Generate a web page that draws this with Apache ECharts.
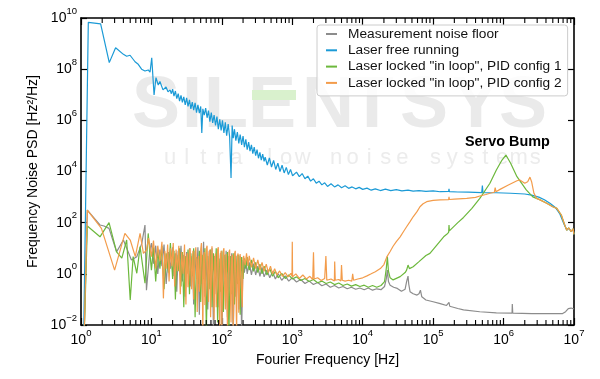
<!DOCTYPE html>
<html><head><meta charset="utf-8">
<script src="https://cdn.jsdelivr.net/npm/echarts@6/dist/echarts.min.js"></script>
<style>html,body{margin:0;padding:0;background:#fff}#c{width:600px;height:379px}</style>
</head><body><div id="c"></div>
<script>
// ---------- data ----------
const seriesNames = ['Measurement noise floor', 'Laser free running', 'Laser locked "in loop", PID config 1', 'Laser locked "in loop", PID config 2'];
const xTickExponents = [0, 1, 2, 3, 4, 5, 6, 7];
const yTickExponents = [-2, 0, 2, 4, 6, 8, 10];
const annotationText = 'Servo Bump';

const noiseFloor = [[1.07,1e-4],[1.23,310],[1.86,81],[2.12,74],[2.5,60],[3.2,7.2],[4.0,21],[5.2,3.5],[6.2,4.7],[7.3,15.5],[8.1,81],[8.5,0.23],[9.5,8.5],
[10,16],[10.7,2.5],[11.5,12.6],[12.3,1],[13.2,8.9],[14.1,2],[15.1,14],[16.2,0.4],[17.4,7.1],[18.6,1.6],[20,11],[20.9,0.8],[21.9,6.3],[22.9,0.2],[24,7.9],[25.1,1.26],[26.3,12.6],[27.5,0.5],[28.8,5.6],[30.2,0.126],[31.6,7.1],[33.1,1],[34.7,10],[36.3,0.32],[38,5],[39.8,0.063],[41.7,7.9],[43.7,0.63],[45.7,11],[47.9,0.025],[50.1,5.6],[52.5,0.4],[55,18],[57.5,0.126],[60.3,6.3],[63.1,0.04],[66.1,7.9],[69.2,0.32],[72.4,10],[75.9,0.008],[79.4,5],[83.2,0.16],[87.1,8.9],[91.2,0.05],[95.5,6.3],[100,0.0025],[105,7.1],[110,0.4],[115,7.9],[120,0.02],[126,5],[132,0.25],[138,6.3],[145,0.003],[151,4.5],[158,0.126],[166,5.6],[174,0.04],[182,5],[191,0.0063],[200,3.5],
[209,1.12],[219,3.2],[229,1],[245,2.8],[263,0.9],[282,2.5],[302,0.9],[324,2],[347,0.8],[372,1.8],[398,0.76],[437,1.4],[479,0.7],[525,1.2],[575,0.63],[631,1],[708,0.56],[794,0.83],[891,0.52],[1000,0.7],[1148,0.48],[1318,0.6],[1514,0.42],[1738,0.52],[1995,0.38],[2291,0.46],[2630,0.34],[3020,0.4],[3467,0.3],[3981,0.35],[4571,0.28],[5248,0.32],[6026,0.26],[6918,0.3],[7943,0.25],[9120,0.28],[1.05e4,0.24],[1.2e4,0.28],[1.38e4,0.23],[1.58e4,0.26],[1.82e4,0.24],[2.04e4,0.32],[2.16e4,0.63],[2.24e4,1.4],[2.32e4,0.5],[2.45e4,0.36],[2.75e4,0.3],[3.1e4,0.27],[3.55e4,0.21],[4.0e4,0.25],[4.2e4,0.5],[4.4e4,0.81],[4.5e4,0.4],[4.7e4,0.2],[5.2e4,0.166],[5.9e4,0.148],[6.3e4,0.166],[6.6e4,0.23],[6.9e4,0.126],[7.9e4,0.095],[1e5,0.081],[1.26e5,0.068],[1.55e5,0.058],[1.64e5,0.055],[1.68e5,0.076],[1.72e5,0.054],[2.24e5,0.044],[2.7e5,0.039],[4.6e5,0.033],[7.9e5,0.030],[1.32e6,0.029],[1.33e6,0.066],[1.35e6,0.029],[2.5e6,0.028],[5.0e6,0.028],[6.9e6,0.028],[7.6e6,0.033],[8.3e6,0.044],[9.1e6,0.046],[1e7,0.042]];

const freeRunning = [[1.07,1e-4],[1.27,6.8e9],[1.9,5.9e9],[2.52,1.8e8],[3.1,6.9e8],[4.0,3.8e8],[4.45,3.2e8],[4.97,3.5e8],[5.85,1.95e8],[6.5,1.55e8],[7.25,1.0e8],[8.1,8.5e7],[9.0,9.3e7],[9.55,7.6e7],[10.1,2.8e8],[10.9,9.8e6],[11.6,4.7e7],[12.5,2.4e7],[13.2,3.3e7],[14.6,1.55e7],[16.1,2.0e7],[17.2,1.3e7],[18.4,1.55e7],[19.2,1.1e7],
[20,1.66e7],[20.9,8.9e6],[21.9,1.4e7],[22.9,7.1e6],[24,1.1e7],[25.1,5.6e6],[26.3,9.5e6],[27.5,5.0e6],[28.8,8.3e6],[30.2,4.0e6],[31.6,7.6e6],[33.1,3.5e6],[34.7,6.3e6],[36.3,2.8e6],[38,5.2e6],[39.8,2.5e6],[41.7,4.8e6],[43.7,2.0e6],[45.7,4.0e6],[47.9,1.9e6],[50.1,3.5e6],[51.9,3.2e5],[53.7,2.8e6],[56.2,1.6e6],[58.9,3.0e6],[61.7,1.26e6],[64.6,2.4e6],[67.6,8.9e5],[70.8,2.0e6],[74.1,7.9e5],[77.6,1.6e6],[81.3,6.3e5],[85.1,1.4e6],[89.1,4.5e5],[93.3,1.1e6],[97.7,4.0e5],[102,1.0e6],[107,3.2e5],[112,8.3e5],[117,2.5e5],[123,7.1e5],[129,2.2e5],[135,5.6e3],[140,6.3e5],[145,2.0e5],[151,4.5e5],[158,1.6e5],[166,3.5e5],[174,1.26e5],[182,2.8e5],[191,1.1e5],[200,2.4e5],[209,8.9e4],[219,1.8e5],[229,7.1e4],[240,1.4e5],[251,6.3e4],[263,1.1e5],[275,5.0e4],[288,8.9e4],[302,4.2e4],[316,7.1e4],[331,3.3e4],[347,5.6e4],[363,2.8e4],[380,4.8e4],
[398,2.5e4],[412,3.6e4],[427,4.0e4],[442,1.8e4],[457,2.0e4],[473,3.4e4],[490,3.0e4],[507,1.5e4],[525,1.66e4],[543,2.7e4],[562,2.4e4],[582,1.2e4],[603,1.3e4],[624,2.1e4],[646,1.9e4],[669,1.0e4],[692,1.1e4],[716,1.75e4],[741,1.6e4],[767,8.8e3],[794,9.5e3],[822,1.45e4],[851,1.3e4],[881,7.6e3],[912,8.3e3],[944,1.2e4],[977,1.1e4],[1010,6.8e3],[1047,7.1e3],
[1148,9.5e3],[1259,6.3e3],[1380,8.3e3],[1514,5.2e3],[1660,6.6e3],[1820,4.2e3],[1995,5.2e3],[2188,3.5e3],[2399,4.2e3],[2630,3.0e3],[2884,3.6e3],[3162,2.6e3],[3548,3.3e3],[3981,2.5e3],[4467,3.0e3],[5012,2.3e3],[5623,2.75e3],[6310,2.2e3],[7079,2.5e3],[7943,2.1e3],[8913,2.4e3],[1e4,2.0e3],[1.15e4,2.24e3],[1.32e4,1.86e3],[1.51e4,2.1e3],[1.78e4,1.8e3],[2.1e4,2.04e3],[2.5e4,1.78e3],[3.0e4,1.95e3],[3.6e4,1.74e3],[4.4e4,1.86e3],[5.2e4,1.7e3],[6.3e4,1.8e3],[7.9e4,1.66e3],[1e5,1.74e3],[1.26e5,1.62e3],[1.66e5,1.66e3],[1.68e5,2.1e3],[1.7e5,1.62e3],[2.24e5,1.58e3],[3.16e5,1.55e3],[4.9e5,1.5e3],[5.0e5,2.8e3],[5.1e5,1.5e3],[7.9e5,1.48e3],[1.26e6,1.41e3],[2.0e6,1.32e3],[2.5e6,1.2e3],[3.16e6,1.0e3],[3.8e6,790],[4.6e6,560],[5.5e6,380],[6.3e6,220],[7.2e6,89],[7.9e6,52],[8.5e6,60],[9.1e6,45],[9.7e6,55],[1e7,35]];

const lockedPid1 = [[1.07,1e-4],[1.23,74],[1.86,28],[2.5,100],[3.2,7.2],[3.8,4.1],[4.45,21],[5.0,0.095],[5.5,4.7],[6.2,1.05],[6.9,11.5],[8.1,0.43],[9.0,38],
[10,1.4],[10.7,11],[11.5,0.5],[12.3,7.9],[13.2,1.6],[14.1,12.6],[15.1,0.25],[16.2,6.3],[17.4,1.1],[18.6,16],[20,0.63],[20.9,7.9],[21.9,0.1],[22.9,5.6],[24,1.26],[25.1,10],[26.3,0.32],[27.5,7.1],[28.8,0.05],[30.2,5],[31.6,1],[33.1,8.9],[34.7,0.16],[36.3,6.3],[38,0.8],[39.8,10],[41.7,0.02],[43.7,4.5],[45.7,0.4],[47.9,7.9],[50.1,0.08],[52.5,5.6],[55,0.63],[57.5,10],[60.3,0.0063],[63.1,5],[66.1,0.25],[69.2,8.9],[72.4,0.05],[75.9,6.3],[79.4,0.5],[83.2,10],[87.1,0.0126],[91.2,4],[95.5,0.2],[100,7.9],[105,0.032],[110,5.6],[115,0.5],[120,7.1],[126,0.004],[132,5],[138,0.16],[145,6.3],[151,0.063],[158,5],[166,0.4],[174,5.6],[182,0.025],[191,4.5],[200,0.63],
[209,4],[219,1.6],[229,4.5],[245,1.4],[263,3.5],[282,1.26],[302,2.8],[324,1.12],[347,2.4],[372,1],[398,2],[437,0.9],[479,1.6],[525,0.8],[575,1.26],[631,0.7],[708,1.05],[794,0.66],[891,0.9],[1000,0.63],[1148,0.76],[1318,0.55],[1514,0.66],[1738,0.5],[1995,0.6],[2291,0.45],[2630,0.52],[3020,0.42],[3467,0.48],[3981,0.38],[4571,0.44],[5248,0.35],[6026,0.4],[6918,0.33],[7943,0.38],[9120,0.32],[1.05e4,0.36],[1.2e4,0.3],[1.38e4,0.35],[1.58e4,0.3],[1.82e4,0.35],[2.04e4,0.5],[2.16e4,1.6],[2.24e4,4.7],[2.32e4,1.26],[2.45e4,0.7],[2.7e4,0.58],[3.4e4,0.78],[4.0e4,1.12],[4.2e4,1.4],[4.4e4,2.2],[4.6e4,1.6],[5.2e4,1.9],[6.3e4,3.0],[7.9e4,5.2],[9.0e4,6.3],[1.12e5,13],[1.41e5,28],[1.56e5,35],[1.66e5,42],[1.68e5,80],[1.70e5,48],[2.24e5,100],[2.7e5,160],[3.55e5,360],[4.6e5,890],[6.4e5,3470],[7.9e5,1.15e4],[9.5e5,2.8e4],[1.08e6,4.4e4],[1.26e6,2.1e4],[1.55e6,6300],[2.1e6,1900],[2.6e6,1020],[3.3e6,780],[4.1e6,575],[5.0e6,417],[5.7e6,363],[6.6e6,200],[7.4e6,79],[7.9e6,51],[8.4e6,63],[9.1e6,45],[9.7e6,58],[1e7,35]];

const lockedPid2 = [[1.07,1e-4],[1.23,310],[1.95,60],[3.0,1.4],[4.2,38],[5.0,21],[5.9,4.7],[6.9,38],[7.7,6.3],[8.5,8.5],[9.1,25],
[10,4.7],[10.7,20],[11.5,1.6],[12.3,12.6],[13.2,3.2],[14.1,18],[14.8,0.11],[15.5,7.9],[16.2,1.6],[17,14],[17.8,0.5],[18.6,10],[19.5,2],[20.4,16],[21.4,0.32],[22.4,8.9],[23.4,1.26],[24.5,12.6],[25.7,0.16],[26.9,7.1],[28.2,1],[29.5,14],
[30.9,0.063],[31.6,4],[32.4,6.3],[33.1,0.3],[33.9,0.63],[34.7,8],[35.5,10],[36.3,1.5],[37.2,0.25],[38,3],[38.9,7.9],[39.8,0.1],[40.7,0.8],[41.7,6],[42.7,11],[43.7,2],[44.7,0.032],[45.7,3.5],[46.8,5],[47.9,0.2],[49,0.4],[50.1,9],[51.3,16],[52.5,0.8],[53.7,0.005],[55,5],[56.2,7.1],[57.5,0.06],[58.9,0.2],[60.3,10],[61.7,12.6],[63.1,1],[64.6,0.08],[66.1,6],[67.6,8.9],[69.2,0.02],[70.8,0.5],[72.4,12],[74.1,14],[75.9,0.3],[77.6,0.016],[79.4,4],[81.3,6.3],[83.2,0.05],[85.1,0.32],[87.1,9],[89.1,11],[91.2,0.5],[93.3,0.003],[95.5,5],[97.7,7.9],[100,0.01],[102,0.16],[105,8],[107,10],[110,0.3],[112,0.04],[115,6],[117,7.1],[120,0.008],[123,0.63],[126,7],[129,8.9],[132,0.2],[135,0.0126],[138,4],[141,5.6],[145,0.006],[148,0.126],[151,6],[155,7.9],[158,0.4],[162,0.004],[166,4.5],[170,6.3],[174,0.03],[178,0.25],[182,6],[186,7.1],[191,0.2],[195,0.05],[200,4],
[204,5],[214,2.2],[224,6.3],[234,2],[245,5],[263,1.8],[282,4.2],[302,1.6],[324,3.5],[347,1.4],[372,2.8],[398,1.26],[427,2.4],[457,1.12],[490,2.0],[525,1.0],[562,1.6],[603,0.9],[661,1.3],[724,0.8],[794,1.12],[871,0.76],[955,1.05],[990,0.8],[1000,18],[1010,0.76],[1122,1.0],[1259,0.66],[1413,0.9],[1585,0.63],[1778,0.8],[1950,0.6],[2000,6.9],[2042,0.63],[2291,0.7],[2570,0.55],[2884,0.66],[2960,0.58],[3000,5],[3090,0.56],[3548,0.63],[3960,0.52],[4000,3],[4074,0.56],[4571,0.6],[4900,0.52],[5000,2.2],[5129,0.56],[5623,0.52],[6310,0.56],[7000,0.52],[7200,1],[7413,0.56],[8511,0.63],[1e4,0.7],[1.15e4,0.83],[1.32e4,1.0],[1.51e4,1.2],[1.78e4,1.6],[2.0e4,2.3],[2.2e4,4.6],[2.45e4,7.5],[2.7e4,12],[3.0e4,18],[3.4e4,28],[3.8e4,45],[4.2e4,69],[4.7e4,110],[5.2e4,170],[5.9e4,270],[6.5e4,417],[7.2e4,550],[8.1e4,660],[1e5,740],[1.26e5,780],[1.66e5,800],[1.68e5,1020],[1.70e5,805],[2.0e5,830],[3.0e5,890],[4.0e5,980],[4.6e5,1100],[5.6e5,1260],[6.4e5,1410],[7.4e5,1550],[7.6e5,2340],[7.8e5,1620],[8.9e5,2000],[1.17e6,2950],[1.55e6,4360],[1.7e6,4680],[2.0e6,3470],[2.2e6,3980],[2.37e6,6030],[2.5e6,3980],[2.7e6,1410],[2.95e6,890],[3.3e6,780],[4.1e6,575],[5.0e6,417],[5.7e6,363],[6.6e6,200],[7.4e6,79],[7.9e6,51],[8.4e6,63],[9.1e6,45],[9.7e6,58],[1e7,35]];

// ---------- style ----------
const FONT = '"Liberation Sans", Arial, sans-serif';
const colors = ['#8c8c8c', '#1b9ad6', '#6cb83c', '#f39c4b'];
const minorTickFreqs = [];
for (let d = 0; d < 7; d++) for (let m = 2; m <= 9; m++) minorTickFreqs.push([m * Math.pow(10, d)]);

const expLabel = v => {
  const e = Math.round(Math.log10(v));
  return '{b|10}{e|' + String(e).replace('-', '\u2212') + '}';
};
const richLabel = {
  b: { fontSize: 14, fontFamily: FONT, color: '#000', lineHeight: 24, verticalAlign: 'middle' },
  e: { fontSize: 9.5, fontFamily: FONT, color: '#000', lineHeight: 24, verticalAlign: 'top' }
};
const axisLine = { show: true, onZero: false, lineStyle: { color: '#000', width: 1.6 } };

const chart = echarts.init(document.getElementById('c'), null, { renderer: 'canvas' });

const wmLetters = ['S','I','L','E','N','T','S','Y','S'];
const wmX = [156, 192, 226, 272, 328, 372, 424, 476, 523];
const tagline = 'ultra low noise systems';
const graphics = [];
wmLetters.forEach((ch, i) => graphics.push({
  type: 'text', z: 0, silent: true,
  style: { text: ch, x: wmX[i], y: 143, align: 'center', verticalAlign: 'bottom',
    font: 'bold 72px ' + FONT, fill: '#eaeaea' }
}));
graphics.push({ type: 'rect', z: 0, silent: true, shape: { x: 252, y: 90, width: 44, height: 10 }, style: { fill: '#d9f1cd' } });
tagline.split('').forEach((ch, i) => graphics.push({
  type: 'text', z: 0, silent: true,
  style: { text: ch, x: 170 + i * 16.6, y: 158, align: 'center', verticalAlign: 'middle',
    font: '22px ' + FONT, fill: '#ececec' }
}));
graphics.push({
  type: 'text', z: 100, silent: true,
  style: { text: annotationText, x: 465, y: 149, align: 'left', verticalAlign: 'bottom',
    font: 'bold 14.4px ' + FONT, fill: '#000' }
});

const lineSeries = [noiseFloor, freeRunning, lockedPid1, lockedPid2].map((d, i) => ({
  name: seriesNames[i], type: 'line', data: d, showSymbol: false, symbol: 'none',
  xAxisIndex: 0, yAxisIndex: 0, z: 2 + i, clip: true, animation: false,
  lineStyle: { color: colors[i], width: 1.2 }, itemStyle: { color: colors[i] }
}));

const option = {
  animation: false,
  backgroundColor: '#fff',
  grid: { left: 81, right: 26, top: 18, bottom: 54, containLabel: false },
  xAxis: [
    { type: 'log', logBase: 10, min: 1, max: 1e7, position: 'bottom',
      axisLine, axisTick: { show: true, inside: true, length: 7, lineStyle: { color: '#000', width: 1.2 } },
      axisLabel: { margin: 3, formatter: expLabel, rich: richLabel },
      splitLine: { show: false }, minorTick: { show: false }, minorSplitLine: { show: false },
      name: 'Fourier Frequency [Hz]', nameLocation: 'middle', nameGap: 28,
      nameTextStyle: { fontSize: 14, color: '#000', fontFamily: FONT } },
    { type: 'log', logBase: 10, min: 1, max: 1e7, position: 'top',
      axisLine, axisTick: { show: true, inside: true, length: 7, lineStyle: { color: '#000', width: 1.2 } },
      axisLabel: { show: false }, splitLine: { show: false } }
  ],
  yAxis: [
    { type: 'log', logBase: 100, min: 1e-2, max: 1e10, position: 'left',
      axisLine, axisTick: { show: true, inside: true, length: 6, lineStyle: { color: '#000', width: 1.2 } },
      axisLabel: { margin: 4, formatter: expLabel, rich: richLabel },
      splitLine: { show: false },
      name: 'Frequency Noise PSD [Hz\u00b2/Hz]', nameLocation: 'middle', nameGap: 32,
      nameTextStyle: { fontSize: 14, color: '#000', fontFamily: FONT } },
    { type: 'log', logBase: 100, min: 1e-2, max: 1e10, position: 'right',
      axisLine, axisTick: { show: true, inside: true, length: 6, lineStyle: { color: '#000', width: 1.2 } },
      axisLabel: { show: false }, splitLine: { show: false } }
  ],
  legend: {
    orient: 'vertical', left: 317, top: 25,
    data: seriesNames, icon: 'rect', itemWidth: 11, itemHeight: 2, itemGap: 2.3,
    padding: [2, 6, 6, 9],
    backgroundColor: 'rgba(255,255,255,0.85)', borderColor: '#cccccc', borderWidth: 1, borderRadius: 3,
    textStyle: { fontSize: 13.7, color: '#111', fontFamily: FONT, lineHeight: 14, padding: [0, 0, 0, 6] },
    selectedMode: false
  },
  graphic: graphics,
  series: lineSeries.concat([{
    type: 'custom', xAxisIndex: 0, yAxisIndex: 0, data: minorTickFreqs, silent: true, z: 20,
    clip: false, animation: false,
    renderItem: (params, api) => {
      const x = api.coord([api.value(0), 1])[0];
      const cs = params.coordSys;
      const yb = cs.y + cs.height, yt = cs.y;
      return { type: 'group', children: [
        { type: 'line', shape: { x1: x, y1: yb, x2: x, y2: yb - 5 }, style: { stroke: '#000', lineWidth: 1.1 } },
        { type: 'line', shape: { x1: x, y1: yt, x2: x, y2: yt + 5 }, style: { stroke: '#000', lineWidth: 1.1 } }
      ] };
    }
  }])
};
chart.setOption(option);
</script></body></html>
